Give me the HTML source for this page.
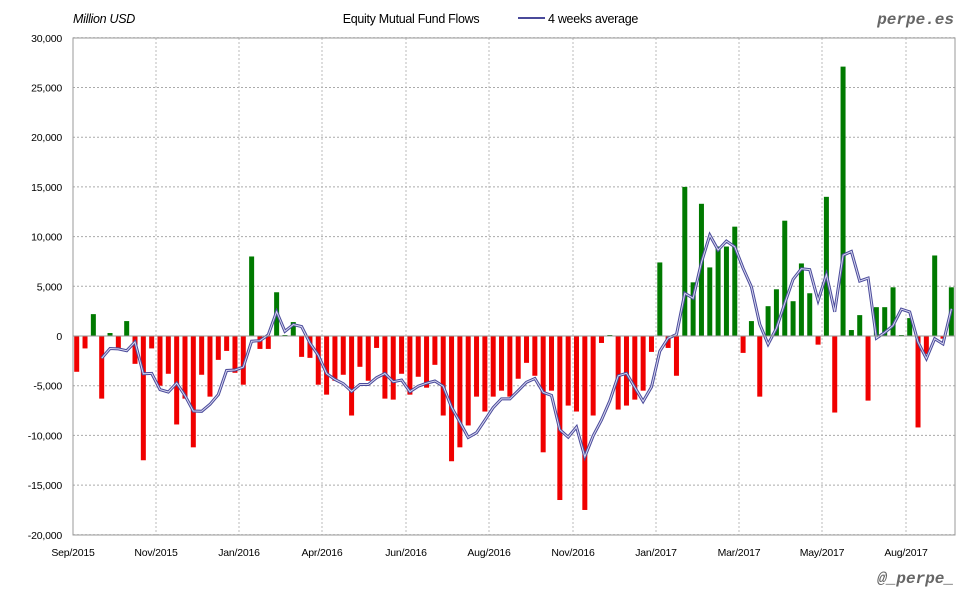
<!DOCTYPE html>
<html><head><meta charset="utf-8"><style>
body{margin:0;background:#fff;width:980px;height:600px;overflow:hidden;font-family:"Liberation Sans",sans-serif}
</style></head><body>
<svg id="s" width="980" height="600" xmlns="http://www.w3.org/2000/svg" font-family="Liberation Sans, sans-serif"></svg>
<script>
const v=[-3600,-1250,2200,-6300,300,-1400,1500,-2800,-12500,-1250,-5000,-3800,-8900,-6300,-11200,-3900,-6100,-2400,-1500,-3700,-4900,8000,-1300,-1300,4400,100,1400,-2100,-2200,-4900,-5900,-4500,-3900,-8000,-3100,-4500,-1200,-6300,
-6400,-3800,-5900,-4100,-5200,-2900,-8000,-12600,-11200,-9000,-6100,-7600,-6100,-5500,-6100,-4300,-2700,-4000,-11700,-5500,-16500,-7000,-7600,-17500,-8000,-700,100,-7400,-7000,-6400,-5500,-1600,7400,-1200,-4000,
15000,5400,13300,6900,9000,9000,11000,-1700,1500,-6100,3000,4700,11600,3500,7300,4300,-870,14000,-7700,27100,600,2100,-6500,2900,2900,4900,100,1800,-9200,-1800,8100,-270,4900];
const L=73,R=955,T=38,B=535;
const Y=val=>336-val/100.6;
const X=i=>76.7+i*8.33;
let h='';
for(let k=-20000;k<=30000;k+=5000){const y=Y(k);
 h+=`<line x1="${L}" x2="${R}" y1="${y}" y2="${y}" stroke="#aaa" stroke-dasharray="2,2"/>`;
 h+=`<text x="62" y="${y+4}" font-size="10.5" text-anchor="end" fill="#000" letter-spacing="-0.2">${k.toLocaleString('en-US')}</text>`;}
const mons=[["Sep/2015",73],["Nov/2015",156],["Jan/2016",239],["Apr/2016",322],["Jun/2016",406],["Aug/2016",489],["Nov/2016",573],["Jan/2017",656],["Mar/2017",739],["May/2017",822],["Aug/2017",906]];
for(const [t,x] of mons){
 if(x>L)h+=`<line x1="${x}" x2="${x}" y1="${T}" y2="${B}" stroke="#bbb" stroke-dasharray="2,2"/>`;
 h+=`<text x="${x}" y="556" font-size="10.5" text-anchor="middle" letter-spacing="-0.2">${t}</text>`;}
h+=`<rect x="${L}" y="${T}" width="${R-L}" height="${B-T}" fill="none" stroke="#999"/>`;
v.forEach((a,i)=>{const y0=Y(0),y1=Y(a);
 h+=`<rect x="${X(i)-2.5}" y="${Math.min(y0,y1)}" width="5" height="${Math.max(Math.abs(y1-y0),1)}" fill="${a>=0?'#007a00':'#f00000'}"/>`;});
let p=[];for(let i=3;i<v.length;i++){const m=(v[i]+v[i-1]+v[i-2]+v[i-3])/4;p.push(X(i).toFixed(1)+','+Y(m).toFixed(1));}
h+=`<polyline points="${p.join(' ')}" fill="none" stroke="#4a4a9a" stroke-width="3"/>`;
h+=`<polyline points="${p.join(' ')}" fill="none" stroke="#d8d8f0" stroke-width="1"/>`;
h+=`<line x1="${L}" x2="${R}" y1="${Y(0)}" y2="${Y(0)}" stroke="#999"/>`;
h+=`<text x="73" y="23" font-size="12.5" font-style="italic" letter-spacing="-0.3">Million USD</text>`;
h+=`<text x="411" y="23" font-size="12.5" text-anchor="middle" letter-spacing="-0.3">Equity Mutual Fund Flows</text>`;
h+=`<line x1="518" x2="545" y1="18" y2="18" stroke="#4a4a9a" stroke-width="2"/>`;
h+=`<text x="548" y="23" font-size="12.5" letter-spacing="-0.3">4 weeks average</text>`;
h+=`<text x="954" y="24" font-size="16" font-weight="bold" font-style="italic" text-anchor="end" fill="#666" font-family="Liberation Mono, monospace">perpe.es</text>`;
h+=`<text x="954" y="583" font-size="16" font-weight="bold" font-style="italic" text-anchor="end" fill="#666" font-family="Liberation Mono, monospace">@_perpe_</text>`;
document.getElementById('s').innerHTML=h;
</script>
</body></html>
